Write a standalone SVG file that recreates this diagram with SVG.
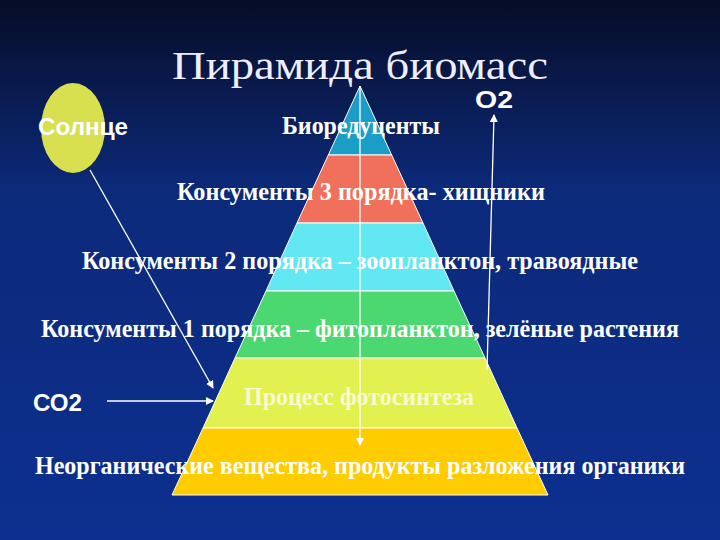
<svg xmlns="http://www.w3.org/2000/svg" width="720" height="540" viewBox="0 0 720 540">
<defs>
<linearGradient id="bg" x1="0" y1="0" x2="0" y2="1">
<stop offset="0" stop-color="#060c26"/><stop offset="0.35" stop-color="#0c2a7a"/><stop offset="1" stop-color="#0d2f8f"/>
</linearGradient>
<marker id="ah" markerWidth="8" markerHeight="8" refX="7" refY="4" orient="auto" markerUnits="userSpaceOnUse"><path d="M0,0 L8,4 L0,8 Z" fill="#fff"/></marker>
<style>
.lbl{font-family:"Liberation Serif",serif;font-weight:bold;font-size:25px;fill:#fff;text-anchor:middle}
.sans{font-family:"Liberation Sans",sans-serif;font-weight:bold;font-size:23px;fill:#fff}
.ln{stroke:#fff;stroke-width:1.3;fill:none}
.band{stroke:#fff;stroke-width:1}
</style>
</defs>
<rect width="720" height="540" fill="url(#bg)"/>
<text x="360" y="79" font-family="Liberation Serif,serif" font-size="40" fill="#eef" text-anchor="middle" textLength="376" lengthAdjust="spacingAndGlyphs">Пирамида биомасс</text>
<g id="sun"><ellipse cx="73" cy="128" rx="32" ry="45" fill="#d8e050"/><text class="sans" x="38" y="135" textLength="90" lengthAdjust="spacingAndGlyphs">Солнце</text></g>
<g id="pyramid">
<polygon class="band" points="360,86 391.7,155 328.3,155" fill="#1a9ec8"/>
<polygon class="band" points="328.3,155 391.7,155 423,223 297,223" fill="#f0705c"/>
<polygon class="band" points="297,223 423,223 454,291 266,291" fill="#62e8f2"/>
<polygon class="band" points="266,291 454,291 485,358 235,358" fill="#4cd870"/>
<polygon class="band" points="235,358 485,358 517,428 203,428" fill="#e2f050"/>
<polygon class="band" points="203,428 517,428 548,495 172,495" fill="#ffcc00"/>
</g>
<g id="connectors">
<line class="ln" x1="360" y1="86" x2="360" y2="445" marker-end="url(#ah)"/>
<line class="ln" x1="90" y1="170" x2="213" y2="388" marker-end="url(#ah)"/>
<line class="ln" x1="107" y1="401" x2="213" y2="401" marker-end="url(#ah)"/>
<line class="ln" x1="487" y1="370" x2="494" y2="115" marker-end="url(#ah)"/>
</g>
<g id="labels">
<text class="lbl" x="361" y="134" textLength="158" lengthAdjust="spacingAndGlyphs">Биоредуценты</text>
<text class="lbl" x="361" y="200" textLength="368" lengthAdjust="spacingAndGlyphs">Консументы 3 порядка- хищники</text>
<text class="lbl" x="360" y="269" textLength="556" lengthAdjust="spacingAndGlyphs">Консументы 2 порядка – зоопланктон, травоядные</text>
<text class="lbl" x="360" y="337" textLength="638" lengthAdjust="spacingAndGlyphs">Консументы 1 порядка – фитопланктон, зелёные растения</text>
<text class="lbl" x="359" y="405" textLength="230" lengthAdjust="spacingAndGlyphs" style="fill:#f6fad0">Процесс фотосинтеза</text>
<text class="lbl" x="360" y="474" textLength="650" lengthAdjust="spacingAndGlyphs">Неорганические вещества, продукты разложения органики</text>
<text class="sans" x="33" y="411" textLength="49" lengthAdjust="spacingAndGlyphs">СО2</text>
<text class="sans" x="475" y="108" textLength="38" lengthAdjust="spacingAndGlyphs">О2</text>
</g>
</svg>
